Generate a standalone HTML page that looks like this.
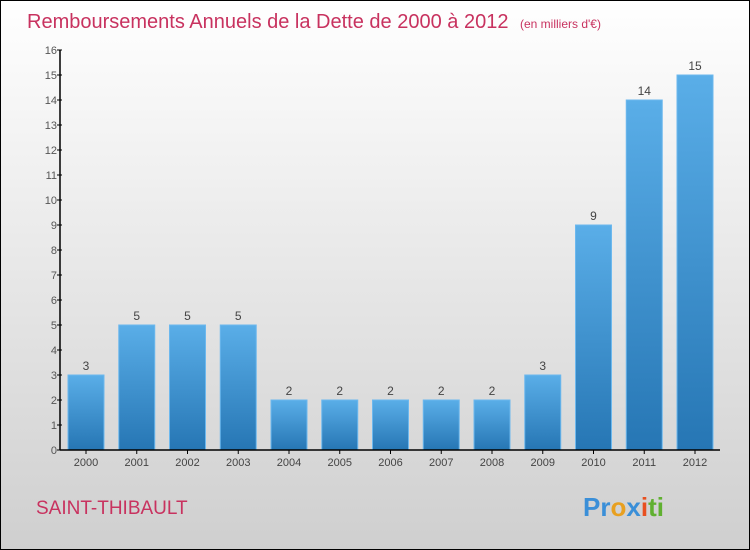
<!DOCTYPE html>
<html><head><meta charset="utf-8"><style>
body{margin:0;width:750px;height:550px;overflow:hidden}
svg{display:block;font-family:"Liberation Sans",sans-serif}
</style></head><body>
<svg id="chart" width="750" height="550" xmlns="http://www.w3.org/2000/svg">
<defs>
<linearGradient id="bg" x1="0" y1="0" x2="0" y2="1"><stop offset="0" stop-color="#ffffff"/><stop offset="1" stop-color="#cfcfcf"/></linearGradient>
<linearGradient id="bar" x1="0" y1="0" x2="0" y2="1"><stop offset="0" stop-color="#5aaee8"/><stop offset="1" stop-color="#2676b4"/></linearGradient>
</defs>
<rect x="0.5" y="0.5" width="749" height="549" fill="url(#bg)" stroke="#000"/>
<text x="27" y="28" font-size="20" fill="#c8325f">Remboursements Annuels de la Dette de 2000 à 2012 <tspan font-size="12" dx="6">(en milliers d'€)</tspan></text>
<text x="36" y="514" font-size="19" fill="#c8325f">SAINT-THIBAULT</text>
<text x="583" y="516" font-size="26" font-weight="bold"><tspan fill="#3a8fd8">Pr</tspan><tspan fill="#e8a020">o</tspan><tspan fill="#3a8fd8">x</tspan><tspan fill="#e85020">i</tspan><tspan fill="#60b030">ti</tspan></text>
<g id="plot"></g>
</svg>
<script>
const categories=["2000","2001","2002","2003","2004","2005","2006","2007","2008","2009","2010","2011","2012"];
const values=[3,5,5,5,2,2,2,2,2,3,9,14,15];
const yTicks=[0,1,2,3,4,5,6,7,8,9,10,11,12,13,14,15,16];
const NS="http://www.w3.org/2000/svg";
const g=document.getElementById('plot');
const x0=60,y0=450,yMax=16,plotH=400,x1=720;
const step=50.75,bw=36;
const y=v=>y0-v/yMax*plotH;
const cx=i=>86+i*step;
function el(t,a,txt){const e=document.createElementNS(NS,t);for(const k in a)e.setAttribute(k,a[k]);if(txt!=null)e.textContent=txt;g.appendChild(e);return e;}
values.forEach((v,i)=>{
 const r=el('rect',{x:cx(i)-bw/2,y:y(v),width:bw,height:y0-y(v),fill:'url(#bar)',stroke:'#6cb8ee','stroke-width':1});
 
 
 const t=el('text',{x:cx(i),y:y(v)-5,'font-size':12,fill:'#444','text-anchor':'middle'},String(v));
 
 
 const l=el('text',{x:cx(i),y:y0+16,'font-size':11,fill:'#444','text-anchor':'middle'},categories[i]);
 
 
 const tk=el('line',{x1:cx(i),x2:cx(i),y1:y0,y2:y0+4,stroke:'#000'});
 
 
});
yTicks.forEach(v=>{
 const t=el('text',{x:x0-3,y:y(v)+4,'font-size':11,fill:'#555','text-anchor':'end'},String(v));
 
 
 const l=el('line',{x1:x0-3,x2:x0+2,y1:y(v),y2:y(v),stroke:'#000'});
 
 
});
const ya=el('line',{x1:x0,x2:x0,y1:y(16),y2:y0,stroke:'#000','stroke-width':1.5});


const xa=el('line',{x1:x0,x2:x1,y1:y0,y2:y0,stroke:'#000','stroke-width':1.5});


</script>
</body></html>
